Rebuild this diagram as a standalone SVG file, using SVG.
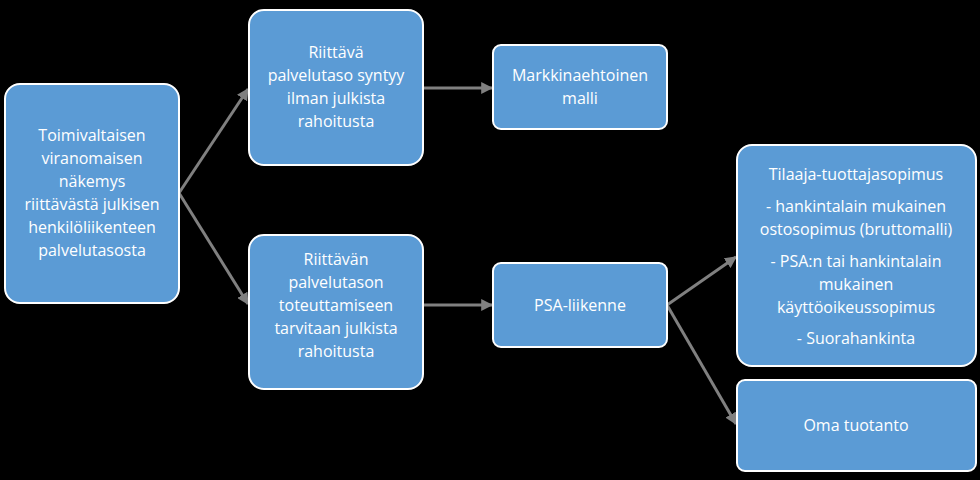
<svg xmlns="http://www.w3.org/2000/svg" width="980" height="480" viewBox="0 0 980 480">
<defs>
<marker id="ah" viewBox="0 0 10 10" refX="9" refY="5" markerWidth="4" markerHeight="4" orient="auto" markerUnits="strokeWidth"><path d="M0,0L10,5L0,10z" fill="#808080"/></marker>
<style>
.box{fill:#5b9bd5;stroke:#fff;stroke-width:2}
text{font-family:"Open Sans","Liberation Sans",sans-serif;font-size:16px;fill:#fff;text-anchor:middle}
.c{stroke:#808080;stroke-width:3;fill:none;marker-end:url(#ah)}
</style>
</defs>
<rect width="980" height="480" fill="#000"/>
<g id="connectors">
<line class="c" x1="179" y1="193" x2="248" y2="89"/>
<line class="c" x1="179" y1="193" x2="248" y2="304"/>
<line class="c" x1="423" y1="88" x2="492" y2="88"/>
<line class="c" x1="423" y1="305" x2="492" y2="305"/>
<line class="c" x1="667" y1="305" x2="736" y2="257"/>
<line class="c" x1="667" y1="305" x2="736" y2="424"/>
</g>
<g id="n1"><rect class="box" x="5" y="84" width="174" height="219" rx="15"/>
<text x="92" y="141">Toimivaltaisen</text><text x="92" y="164">viranomaisen</text><text x="92" y="187">näkemys</text><text x="92" y="210">riittävästä julkisen</text><text x="92" y="233">henkilöliikenteen</text><text x="92" y="256">palvelutasosta</text></g>
<g id="n2"><rect class="box" x="249" y="10" width="174" height="155" rx="15"/>
<text x="336" y="58">Riittävä</text><text x="336" y="81">palvelutaso syntyy</text><text x="336" y="104">ilman julkista</text><text x="336" y="127">rahoitusta</text></g>
<g id="n3"><rect class="box" x="249" y="235" width="174" height="154" rx="15"/>
<text x="336" y="265">Riittävän</text><text x="336" y="288">palvelutason</text><text x="336" y="311">toteuttamiseen</text><text x="336" y="334">tarvitaan julkista</text><text x="336" y="357">rahoitusta</text></g>
<g id="n4"><rect class="box" x="493" y="45" width="174" height="84" rx="8"/>
<text x="580" y="81">Markkinaehtoinen</text><text x="580" y="104">malli</text></g>
<g id="n5"><rect class="box" x="493" y="263" width="174" height="84" rx="8"/>
<text x="580" y="311">PSA-liikenne</text></g>
<g id="n6"><rect class="box" x="737" y="145" width="239" height="221" rx="15"/>
<text x="856" y="180">Tilaaja-tuottajasopimus</text><text x="856" y="212">- hankintalain mukainen</text><text x="856" y="235">ostosopimus (bruttomalli)</text><text x="856" y="267">- PSA:n tai hankintalain</text><text x="856" y="290">mukainen</text><text x="856" y="313">käyttöoikeussopimus</text><text x="856" y="344">- Suorahankinta</text></g>
<g id="n7"><rect class="box" x="737" y="380" width="239" height="91" rx="8"/>
<text x="856" y="431">Oma tuotanto</text></g>
</svg>
